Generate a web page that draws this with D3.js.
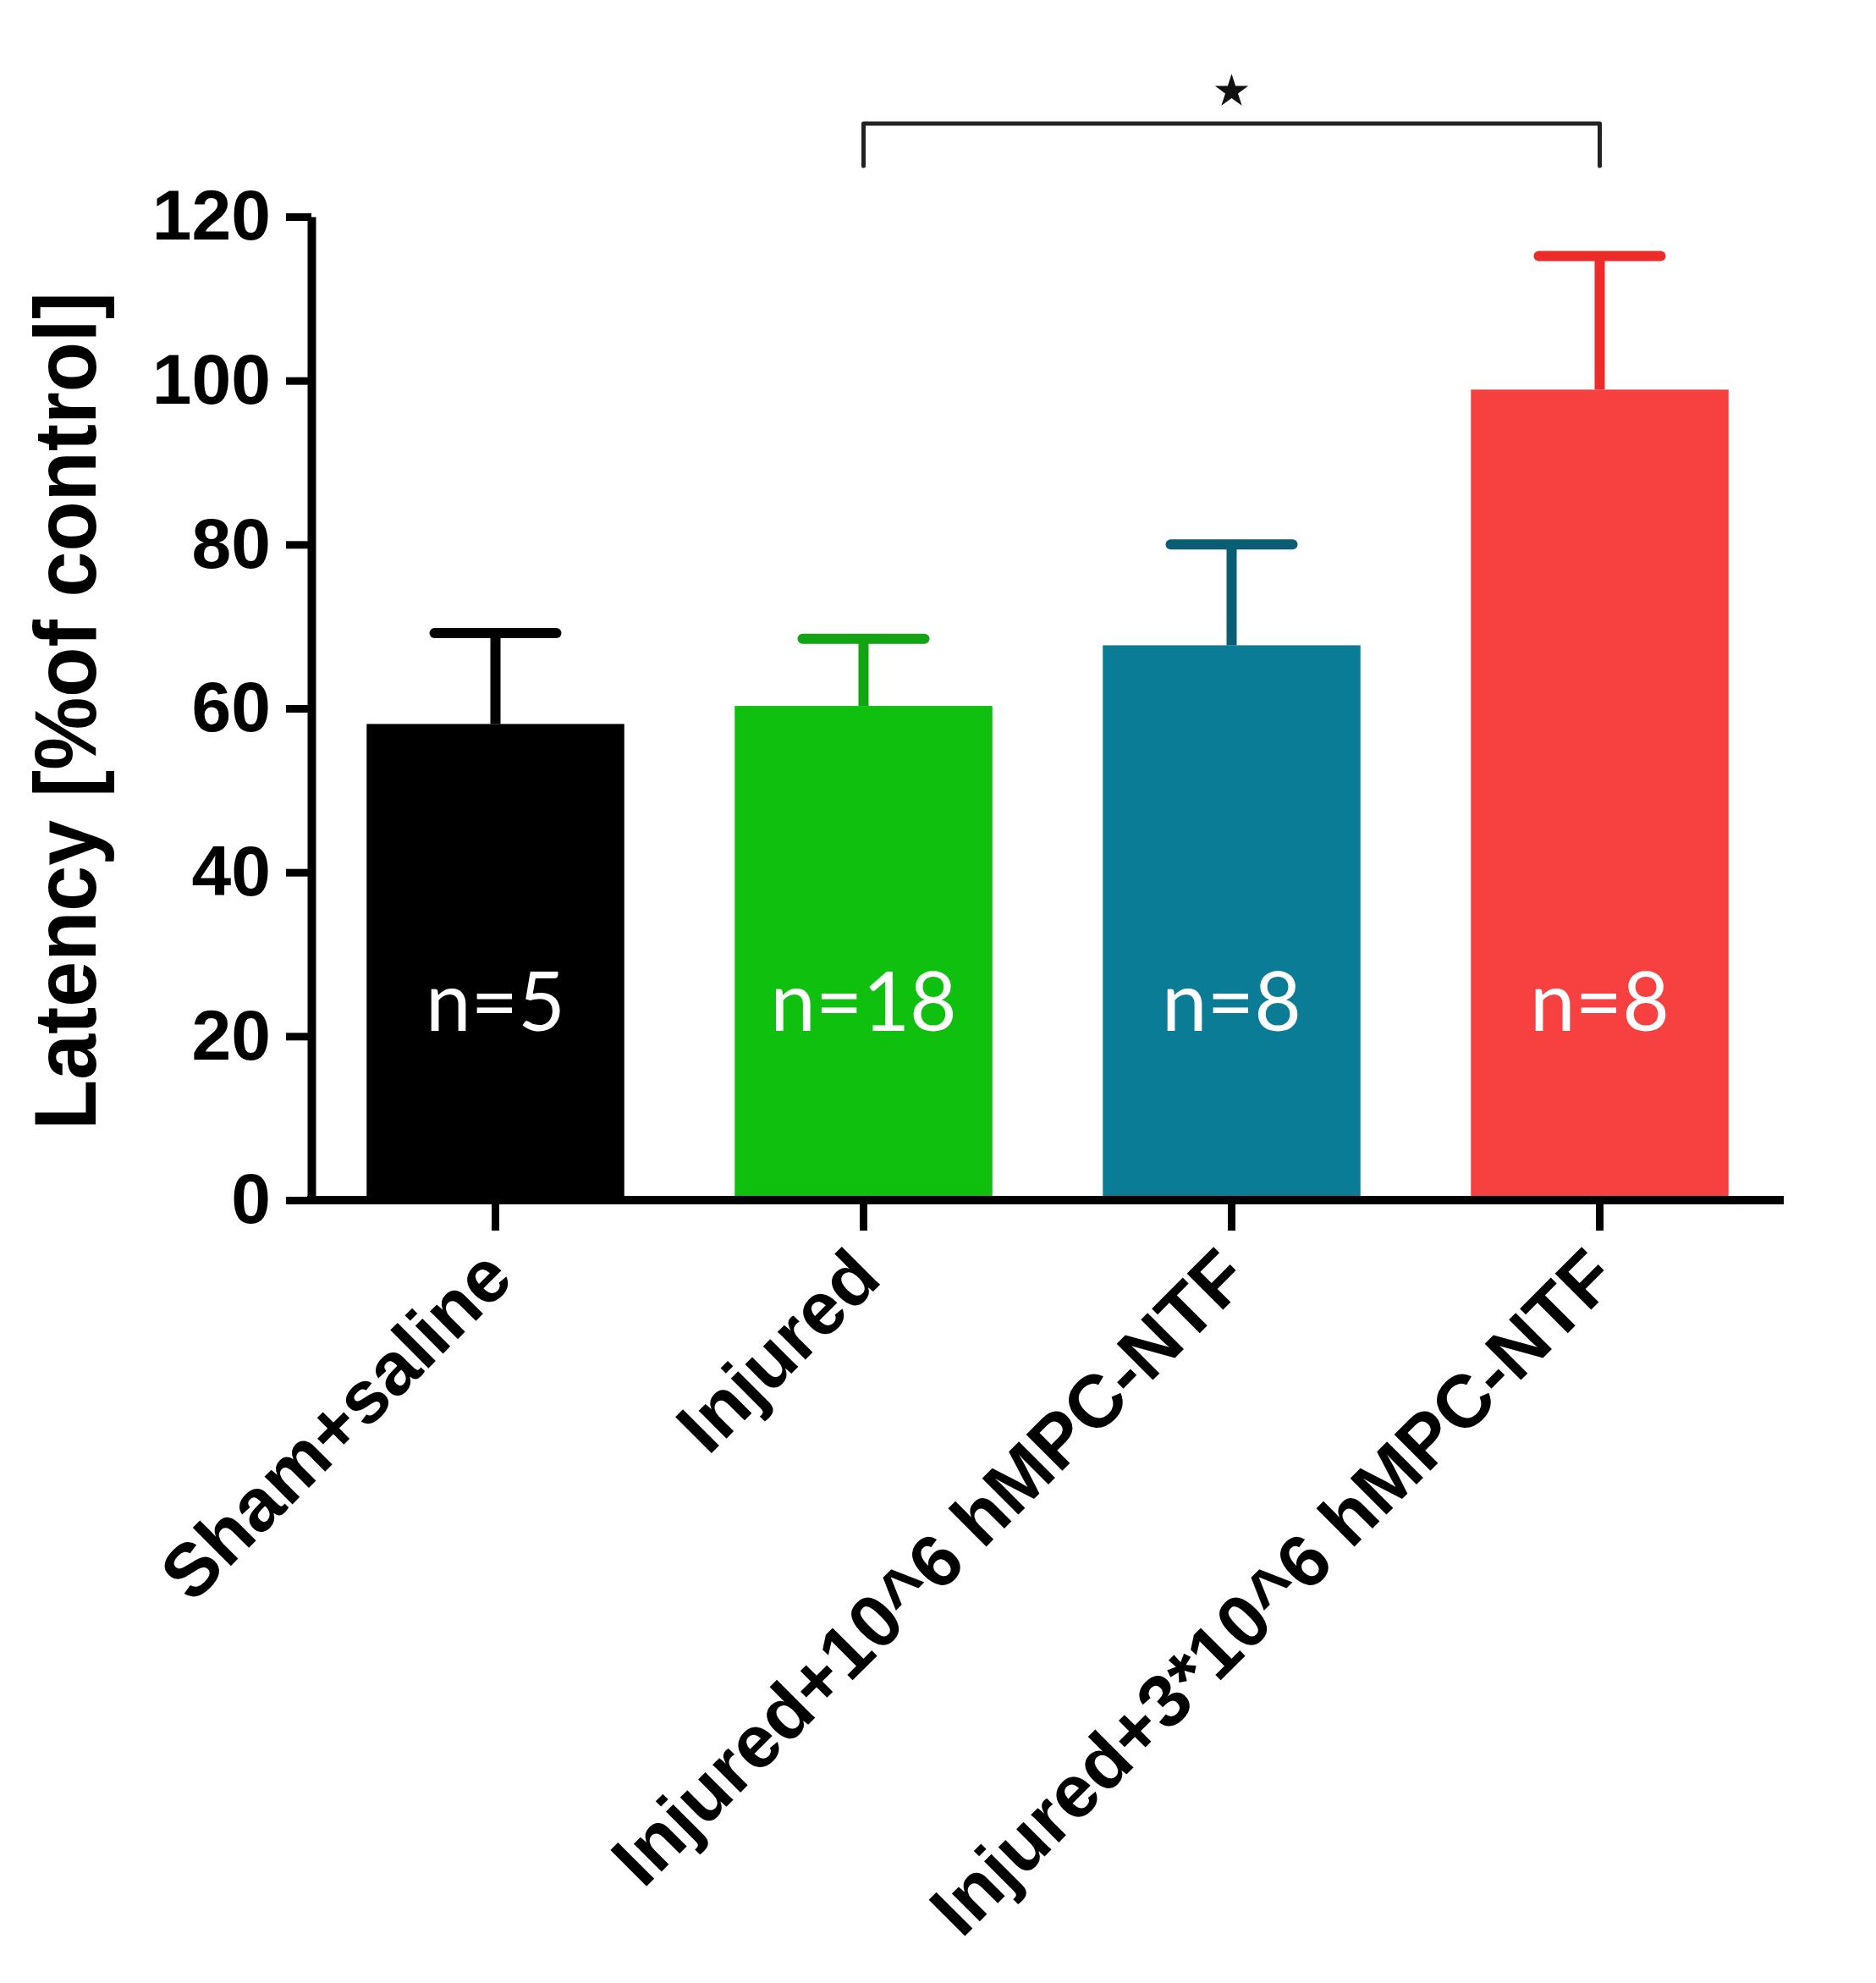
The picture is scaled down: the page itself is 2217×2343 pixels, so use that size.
<!DOCTYPE html>
<html>
<head>
<meta charset="utf-8">
<script src="https://cdn.jsdelivr.net/npm/d3@7"></script>
<style>
  body { margin: 0; background: #fff; }
  svg { display: block; }
</style>
</head>
<body>
<svg width="2217" height="2343"></svg>
<script>
(function () {

	var groups = ['Sham+saline', 'Injured', 'Injured+10^6 hMPC-NTF', 'Injured+3*10^6 hMPC-NTF'];
	var means = [58.1, 60.3, 67.7, 98.9];
	var errors = [11.1, 8.2, 12.3, 16.3];
	var counts = ['n=5', 'n=18', 'n=8', 'n=8'];
	var barColors = ['#000000', '#0fc00f', '#0a7c96', '#f74141'];
	var errColors = ['#000000', '#12a412', '#0a5e74', '#ee2b2b'];
	var yTicks = [0, 20, 40, 60, 80, 100, 120];
	// significance bracket between Injured and Injured+3*10^6
	var sigPair = ['Injured', 'Injured+3*10^6 hMPC-NTF'];

	var svg = d3.select('svg');
	var font = '"Liberation Sans", Arial, sans-serif';

	var x = d3.scaleBand()
		.domain(groups)
		.range([368, 2108])
		.paddingInner(0.3)
		.paddingOuter(0.15);

	var y = d3.scaleLinear()
		.domain([0, 120])
		.range([1418, 256]);

	// bars
	svg.selectAll('rect.bar')
		.data(groups)
		.enter().append('rect')
		.attr('class', 'bar')
		.attr('x', function (d) { return x(d); })
		.attr('width', x.bandwidth())
		.attr('y', function (d, i) { return y(means[i]); })
		.attr('height', function (d, i) { return y(0) - y(means[i]); })
		.attr('fill', function (d, i) { return barColors[i]; });

	// error bars (upper only)
	var eb = svg.selectAll('g.err')
		.data(groups)
		.enter().append('g')
		.attr('class', 'err')
		.attr('stroke', function (d, i) { return errColors[i]; })
		.attr('stroke-width', 12);
	eb.append('line')
		.attr('x1', function (d) { return x(d) + x.bandwidth() / 2; })
		.attr('x2', function (d) { return x(d) + x.bandwidth() / 2; })
		.attr('y1', function (d, i) { return y(means[i]); })
		.attr('y2', function (d, i) { return y(means[i] + errors[i]); });
	eb.append('line')
		.attr('x1', function (d) { return x(d) + x.bandwidth() / 2 - 72; })
		.attr('x2', function (d) { return x(d) + x.bandwidth() / 2 + 72; })
		.attr('y1', function (d, i) { return y(means[i] + errors[i]); })
		.attr('y2', function (d, i) { return y(means[i] + errors[i]); })
		.attr('stroke-linecap', 'round');

	// n labels
	svg.selectAll('text.n')
		.data(groups)
		.enter().append('text')
		.attr('class', 'n')
		.attr('x', function (d) { return x(d) + x.bandwidth() / 2; })
		.attr('y', 1218)
		.attr('text-anchor', 'middle')
		.attr('fill', '#fff')
		.style('font-family', 'Lato, "Open Sans", sans-serif')
		.style('font-size', '96px')
		.text(function (d, i) { return counts[i]; });

	// y axis
	var yAxis = svg.append('g')
		.attr('transform', 'translate(368,0)')
		.call(d3.axisLeft(y).tickValues(yTicks).tickSize(30).tickSizeOuter(0).tickPadding(18));
	yAxis.select('.domain').attr('stroke-width', 10).attr('stroke', '#000');
	yAxis.selectAll('.tick line').attr('stroke-width', 9).attr('stroke', '#000');
	yAxis.selectAll('.tick text')
		.style('font-family', font)
		.style('font-weight', 'bold')
		.style('font-size', '84px')
		.attr('fill', '#000');

	// x axis
	var xAxis = svg.append('g')
		.attr('transform', 'translate(0,' + y(0) + ')')
		.call(d3.axisBottom(x).tickSize(36).tickSizeOuter(0));
	xAxis.select('.domain').attr('stroke-width', 10).attr('stroke', '#000')
		.attr('d', 'M363,0H2108');
	xAxis.selectAll('.tick line').attr('stroke-width', 9).attr('stroke', '#000');
	xAxis.selectAll('.tick text')
		.attr('x', 0)
		.attr('y', 0)
		.attr('dy', '0.35em')
		.attr('text-anchor', 'end')
		.attr('transform', 'translate(2,74) rotate(-45)')
		.style('font-family', font)
		.style('font-weight', 'bold')
		.style('font-size', '88px')
		.attr('fill', '#000');

	// y title
	svg.append('text')
		.attr('transform', 'translate(113,840) rotate(-90)')
		.attr('text-anchor', 'middle')
		.attr('textLength', 990)
		.attr('lengthAdjust', 'spacingAndGlyphs')
		.style('font-family', font)
		.style('font-weight', 'bold')
		.style('font-size', '104px')
		.text('Latency [%of control]');

	// significance bracket
	var bx1 = x(sigPair[0]) + x.bandwidth() / 2;
	var bx2 = x(sigPair[1]) + x.bandwidth() / 2;
	svg.append('path')
		.attr('d', 'M' + bx1 + ',196V146H' + bx2 + 'V196')
		.attr('fill', 'none')
		.attr('stroke', '#222')
		.attr('stroke-width', 5)
		.attr('stroke-linejoin', 'round')
		.attr('stroke-linecap', 'round');
	svg.append('path')
		.attr('d', d3.symbol(d3.symbolStar).size(480)())
		.attr('transform', 'translate(' + ((bx1 + bx2) / 2) + ',108)')
		.attr('fill', '#111');

})();
</script>
</body>
</html>
